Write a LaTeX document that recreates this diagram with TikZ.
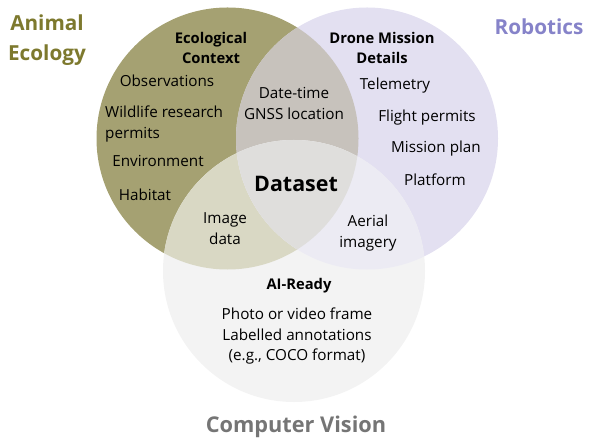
\documentclass[tikz,border=0pt]{standalone}
\usepackage{fontspec}
\setmainfont{Open Sans}
\definecolor{ecofill}{HTML}{A5A172}
\definecolor{robfill}{HTML}{E3E0F1}
\definecolor{cvfill}{HTML}{F3F3F3}
\definecolor{ecorob}{HTML}{C7C2BC}
\definecolor{ecocv}{HTML}{D9D8C4}
\definecolor{robcv}{HTML}{ECEBF3}
\definecolor{allfill}{HTML}{DFDEDC}
\definecolor{ecotitle}{HTML}{7D792E}
\definecolor{robtitle}{HTML}{8683C9}
\definecolor{cvtitle}{HTML}{757575}
\tikzset{
  body/.style={font=\fontsize{15.3}{21}\selectfont, align=center, inner sep=0pt},
  head/.style={font=\fontsize{14.8}{20}\selectfont\bfseries, align=center, inner sep=0pt},
  title/.style={font=\fontsize{20.8}{30}\selectfont\bfseries, align=center, inner sep=0pt},
}
\begin{document}
\begin{tikzpicture}[x=1bp,y=-1bp]
  \useasboundingbox (0,0) rectangle (592,445);
  % circle centres
  \coordinate (E) at (227.5,138.5);
  \coordinate (R) at (367,138.5);
  \coordinate (C) at (294,271);
  \fill[ecofill] (E) circle (131bp);
  \fill[robfill] (R) circle (131bp);
  \fill[cvfill] (C) circle (131bp);
  % overlaps
  \begin{scope}
    \clip (E) circle (131bp);
    \fill[ecorob] (R) circle (131bp);
    \fill[ecocv] (C) circle (131bp);
    \clip (R) circle (131bp);
    \fill[allfill] (C) circle (131bp);
  \end{scope}
  \begin{scope}
    \clip (R) circle (131bp);
    \clip (C) circle (131bp);
    \fill[robcv] (C) circle (131bp);
    \clip (E) circle (131bp);
    \fill[allfill] (C) circle (131bp);
  \end{scope}
  % titles
  \node[title, text=ecotitle] (ecoTitle) at (47,40) {Animal\\Ecology};
  \node[title, text=robtitle] (robTitle) at (539,27) {Robotics};
  \node[title, text=cvtitle, font=\fontsize{21.8}{30}\selectfont\bfseries] (cvTitle) at (296,427) {Computer Vision};
  % ecology
  \node[head] (ecoHead) at (211,48) {Ecological\\Context};
  \node[body] (obs) at (167,81) {Observations};
  \node[body, align=left, anchor=west] (permits) at (105,124) {Wildlife research\\permits};
  \node[body] (env) at (158,161) {Environment};
  \node[body] (hab) at (145,195) {Habitat};
  % robotics
  \node[head] (robHead) at (382,48) {Drone Mission\\Details};
  \node[body] (tele) at (395,86) {Telemetry};
  \node[body] (flight) at (427,118) {Flight permits};
  \node[body] (plan) at (436,149) {Mission plan};
  \node[body] (plat) at (435,180) {Platform};
  % overlaps
  \node[body] (gnss) at (294,103.5) {Date-time\\GNSS location};
  \node[font=\fontsize{21.5}{24}\selectfont\bfseries, inner sep=0pt] (data) at (296,184) {Dataset};
  \node[body] (img) at (225,228.5) {Image\\data};
  \node[body] (aerial) at (368,233) {Aerial\\imagery};
  % computer vision
  \node[head] (aiHead) at (299,286) {AI-Ready};
  \node[body] (ann) at (297,336) {Photo or video frame\\Labelled annotations\\(e.g., COCO format)};
\end{tikzpicture}
\end{document}
